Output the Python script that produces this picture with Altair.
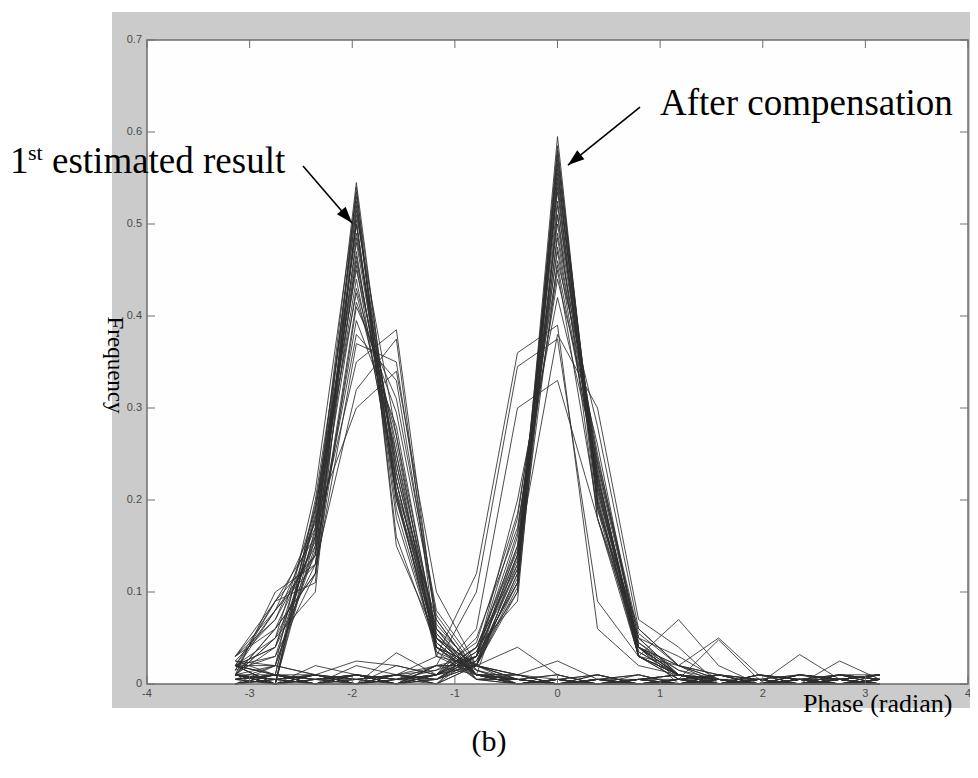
import altair as alt
import pandas as pd

# phase bins (radian) shared by every histogram curve
PHASE_BINS = [-3.14, -2.75, -2.36, -1.96, -1.57, -1.18, -0.79, -0.39, 0.0,
              0.39, 0.79, 1.18, 1.57, 1.96, 2.36, 2.75, 3.14]

# ---- 1st estimated result (peak near -1.96 rad) ----
est_01 = [0.020, 0.000, 0.170, 0.545, 0.210, 0.030, 0.010, 0.005, 0.010, 0.000, 0.005, 0.010, 0.000, 0.005, 0.000, 0.005, 0.010]
est_02 = [0.010, 0.020, 0.150, 0.535, 0.220, 0.040, 0.010, 0.010, 0.000, 0.005, 0.010, 0.000, 0.005, 0.000, 0.010, 0.000, 0.005]
est_03 = [0.030, 0.060, 0.120, 0.520, 0.200, 0.050, 0.010, 0.000, 0.005, 0.010, 0.000, 0.005, 0.000, 0.010, 0.005, 0.000, 0.005]
est_04 = [0.020, 0.080, 0.140, 0.505, 0.190, 0.040, 0.020, 0.005, 0.000, 0.005, 0.000, 0.000, 0.010, 0.000, 0.005, 0.010, 0.010]
est_05 = [0.010, 0.000, 0.200, 0.490, 0.240, 0.050, 0.010, 0.000, 0.005, 0.000, 0.005, 0.010, 0.000, 0.005, 0.000, 0.005, 0.000]
est_06 = [0.020, 0.040, 0.160, 0.480, 0.230, 0.060, 0.005, 0.010, 0.000, 0.005, 0.000, 0.005, 0.010, 0.000, 0.005, 0.000, 0.005]
est_07 = [0.010, 0.100, 0.130, 0.465, 0.220, 0.050, 0.010, 0.000, 0.005, 0.000, 0.010, 0.000, 0.005, 0.005, 0.000, 0.005, 0.000]
est_08 = [0.020, 0.000, 0.190, 0.450, 0.260, 0.050, 0.020, 0.040, 0.010, 0.000, 0.005, 0.000, 0.005, 0.000, 0.010, 0.005, 0.010]
est_09 = [0.030, 0.070, 0.170, 0.440, 0.220, 0.040, 0.020, 0.010, 0.025, 0.005, 0.000, 0.005, 0.000, 0.005, 0.000, 0.005, 0.000]
est_10 = [0.010, 0.050, 0.190, 0.425, 0.250, 0.060, 0.010, 0.005, 0.000, 0.005, 0.000, 0.000, 0.010, 0.000, 0.005, 0.000, 0.005]
est_11 = [0.020, 0.030, 0.120, 0.410, 0.310, 0.080, 0.020, 0.010, 0.005, 0.000, 0.005, 0.005, 0.000, 0.010, 0.000, 0.005, 0.010]
est_12 = [0.020, 0.090, 0.140, 0.395, 0.280, 0.050, 0.020, 0.005, 0.010, 0.000, 0.005, 0.000, 0.005, 0.000, 0.005, 0.000, 0.005]
est_13 = [0.010, 0.060, 0.120, 0.370, 0.350, 0.070, 0.010, 0.000, 0.005, 0.010, 0.000, 0.005, 0.000, 0.005, 0.000, 0.010, 0.000]
est_14 = [0.020, 0.000, 0.160, 0.350, 0.385, 0.060, 0.020, 0.005, 0.000, 0.005, 0.000, 0.000, 0.005, 0.000, 0.032, 0.005, 0.010]
est_15 = [0.030, 0.080, 0.130, 0.320, 0.375, 0.040, 0.010, 0.000, 0.005, 0.000, 0.005, 0.010, 0.000, 0.005, 0.000, 0.010, 0.005]
est_16 = [0.010, 0.040, 0.180, 0.300, 0.340, 0.100, 0.020, 0.010, 0.000, 0.005, 0.000, 0.005, 0.048, 0.005, 0.000, 0.005, 0.000]
est_17 = [0.020, 0.020, 0.210, 0.530, 0.160, 0.040, 0.010, 0.005, 0.000, 0.005, 0.010, 0.000, 0.010, 0.000, 0.005, 0.000, 0.005]
est_18 = [0.010, 0.050, 0.100, 0.510, 0.270, 0.030, 0.020, 0.000, 0.005, 0.000, 0.005, 0.000, 0.000, 0.005, 0.010, 0.005, 0.010]
est_19 = [0.020, 0.010, 0.180, 0.470, 0.210, 0.070, 0.010, 0.010, 0.000, 0.010, 0.000, 0.005, 0.000, 0.005, 0.000, 0.025, 0.005]
est_20 = [0.030, 0.090, 0.110, 0.540, 0.150, 0.050, 0.010, 0.005, 0.000, 0.000, 0.005, 0.010, 0.005, 0.000, 0.005, 0.000, 0.000]
est_21 = [0.015, 0.030, 0.165, 0.525, 0.200, 0.045, 0.010, 0.005, 0.000, 0.010, 0.000, 0.005, 0.000, 0.000, 0.005, 0.000, 0.005]
est_22 = [0.025, 0.070, 0.150, 0.500, 0.205, 0.035, 0.005, 0.000, 0.005, 0.000, 0.005, 0.000, 0.000, 0.005, 0.000, 0.005, 0.000]
est_23 = [0.010, 0.000, 0.185, 0.515, 0.230, 0.045, 0.005, 0.005, 0.000, 0.005, 0.000, 0.000, 0.005, 0.000, 0.005, 0.000, 0.005]
est_24 = [0.020, 0.050, 0.140, 0.485, 0.250, 0.035, 0.015, 0.000, 0.005, 0.000, 0.000, 0.005, 0.000, 0.005, 0.000, 0.000, 0.005]
est_25 = [0.015, 0.080, 0.175, 0.455, 0.205, 0.055, 0.005, 0.000, 0.000, 0.005, 0.005, 0.000, 0.000, 0.000, 0.005, 0.005, 0.000]
est_26 = [0.025, 0.010, 0.195, 0.460, 0.240, 0.045, 0.010, 0.005, 0.000, 0.000, 0.005, 0.000, 0.005, 0.000, 0.000, 0.000, 0.005]
est_27 = [0.010, 0.060, 0.155, 0.430, 0.270, 0.055, 0.010, 0.000, 0.005, 0.000, 0.000, 0.000, 0.005, 0.000, 0.005, 0.000, 0.000]
est_28 = [0.020, 0.040, 0.130, 0.415, 0.295, 0.075, 0.015, 0.005, 0.000, 0.005, 0.000, 0.000, 0.000, 0.000, 0.000, 0.005, 0.000]
est_29 = [0.015, 0.090, 0.160, 0.500, 0.180, 0.040, 0.005, 0.005, 0.000, 0.000, 0.000, 0.005, 0.000, 0.000, 0.000, 0.000, 0.000]
est_30 = [0.025, 0.020, 0.145, 0.380, 0.330, 0.065, 0.015, 0.000, 0.005, 0.000, 0.005, 0.000, 0.000, 0.005, 0.000, 0.005, 0.000]

# ---- after compensation (peak near 0 rad) ----
comp_01 = [0.010, 0.000, 0.010, 0.005, 0.010, 0.000, 0.020, 0.120, 0.595, 0.190, 0.030, 0.010, 0.000, 0.005, 0.000, 0.010, 0.005]
comp_02 = [0.005, 0.010, 0.000, 0.010, 0.005, 0.010, 0.030, 0.100, 0.580, 0.210, 0.040, 0.010, 0.005, 0.000, 0.005, 0.000, 0.010]
comp_03 = [0.020, 0.010, 0.005, 0.010, 0.000, 0.020, 0.010, 0.140, 0.565, 0.180, 0.050, 0.010, 0.000, 0.005, 0.010, 0.005, 0.000]
comp_04 = [0.000, 0.020, 0.010, 0.000, 0.020, 0.010, 0.040, 0.090, 0.550, 0.220, 0.030, 0.010, 0.005, 0.000, 0.005, 0.010, 0.005]
comp_05 = [0.010, 0.000, 0.020, 0.010, 0.000, 0.010, 0.020, 0.150, 0.535, 0.200, 0.040, 0.000, 0.010, 0.005, 0.000, 0.005, 0.010]
comp_06 = [0.005, 0.010, 0.000, 0.020, 0.010, 0.005, 0.030, 0.110, 0.520, 0.240, 0.050, 0.010, 0.000, 0.010, 0.005, 0.000, 0.005]
comp_07 = [0.010, 0.005, 0.010, 0.000, 0.010, 0.020, 0.020, 0.160, 0.500, 0.230, 0.030, 0.020, 0.005, 0.000, 0.010, 0.005, 0.000]
comp_08 = [0.020, 0.010, 0.000, 0.010, 0.005, 0.010, 0.040, 0.130, 0.490, 0.250, 0.040, 0.010, 0.000, 0.005, 0.000, 0.010, 0.005]
comp_09 = [0.000, 0.005, 0.010, 0.025, 0.020, 0.010, 0.030, 0.180, 0.470, 0.220, 0.040, 0.020, 0.005, 0.000, 0.005, 0.000, 0.010]
comp_10 = [0.010, 0.010, 0.000, 0.010, 0.000, 0.005, 0.020, 0.120, 0.460, 0.280, 0.060, 0.020, 0.010, 0.005, 0.000, 0.005, 0.000]
comp_11 = [0.005, 0.020, 0.010, 0.000, 0.034, 0.010, 0.050, 0.170, 0.440, 0.260, 0.040, 0.010, 0.000, 0.010, 0.005, 0.000, 0.005]
comp_12 = [0.010, 0.000, 0.005, 0.010, 0.000, 0.020, 0.030, 0.200, 0.420, 0.240, 0.050, 0.030, 0.005, 0.000, 0.010, 0.005, 0.010]
comp_13 = [0.000, 0.010, 0.000, 0.005, 0.010, 0.030, 0.120, 0.360, 0.390, 0.060, 0.020, 0.010, 0.000, 0.005, 0.000, 0.010, 0.000]
comp_14 = [0.010, 0.000, 0.010, 0.000, 0.005, 0.020, 0.100, 0.345, 0.375, 0.090, 0.030, 0.005, 0.010, 0.000, 0.005, 0.000, 0.005]
comp_15 = [0.005, 0.010, 0.000, 0.010, 0.000, 0.010, 0.060, 0.300, 0.330, 0.180, 0.040, 0.020, 0.010, 0.005, 0.000, 0.005, 0.010]
comp_16 = [0.010, 0.000, 0.010, 0.000, 0.010, 0.005, 0.030, 0.140, 0.380, 0.300, 0.070, 0.040, 0.000, 0.005, 0.000, 0.010, 0.000]
comp_17 = [0.000, 0.010, 0.005, 0.010, 0.000, 0.010, 0.020, 0.100, 0.510, 0.180, 0.030, 0.070, 0.020, 0.000, 0.005, 0.010, 0.005]
comp_18 = [0.010, 0.005, 0.000, 0.000, 0.010, 0.000, 0.040, 0.150, 0.450, 0.190, 0.060, 0.020, 0.050, 0.010, 0.000, 0.005, 0.010]
comp_19 = [0.005, 0.010, 0.010, 0.000, 0.005, 0.010, 0.030, 0.110, 0.575, 0.200, 0.030, 0.010, 0.000, 0.010, 0.005, 0.000, 0.005]
comp_20 = [0.010, 0.000, 0.005, 0.010, 0.000, 0.020, 0.020, 0.130, 0.540, 0.210, 0.040, 0.010, 0.005, 0.000, 0.010, 0.005, 0.000]
comp_21 = [0.005, 0.000, 0.010, 0.005, 0.000, 0.010, 0.025, 0.115, 0.585, 0.195, 0.035, 0.010, 0.000, 0.005, 0.000, 0.005, 0.000]
comp_22 = [0.000, 0.010, 0.005, 0.000, 0.010, 0.005, 0.035, 0.125, 0.560, 0.205, 0.030, 0.005, 0.005, 0.000, 0.005, 0.000, 0.005]
comp_23 = [0.010, 0.005, 0.000, 0.010, 0.005, 0.000, 0.020, 0.105, 0.570, 0.215, 0.045, 0.010, 0.000, 0.000, 0.005, 0.000, 0.000]
comp_24 = [0.005, 0.010, 0.005, 0.000, 0.005, 0.015, 0.030, 0.135, 0.545, 0.195, 0.040, 0.005, 0.010, 0.000, 0.000, 0.005, 0.000]
comp_25 = [0.000, 0.005, 0.010, 0.005, 0.000, 0.010, 0.040, 0.145, 0.525, 0.215, 0.035, 0.010, 0.000, 0.005, 0.000, 0.000, 0.005]
comp_26 = [0.010, 0.000, 0.005, 0.010, 0.005, 0.005, 0.025, 0.125, 0.510, 0.235, 0.045, 0.015, 0.000, 0.000, 0.005, 0.005, 0.000]
comp_27 = [0.005, 0.010, 0.000, 0.005, 0.010, 0.000, 0.030, 0.165, 0.485, 0.225, 0.040, 0.015, 0.005, 0.000, 0.000, 0.005, 0.000]
comp_28 = [0.000, 0.005, 0.010, 0.000, 0.005, 0.010, 0.035, 0.140, 0.475, 0.245, 0.055, 0.020, 0.000, 0.005, 0.000, 0.000, 0.005]
comp_29 = [0.010, 0.005, 0.000, 0.010, 0.000, 0.005, 0.020, 0.110, 0.555, 0.225, 0.040, 0.010, 0.005, 0.000, 0.005, 0.000, 0.000]
comp_30 = [0.005, 0.000, 0.005, 0.005, 0.010, 0.015, 0.045, 0.185, 0.455, 0.230, 0.030, 0.010, 0.000, 0.005, 0.000, 0.005, 0.000]

X_TICKS = [-4, -3, -2, -1, 0, 1, 2, 3, 4]
X_TICK_LABELS = ["-4", "-3", "-2", "-1", "0", "1", "2", "3", "4"]
Y_TICKS = [0, 0.1, 0.2, 0.3, 0.4, 0.5, 0.6, 0.7]
Y_TICK_LABELS = ["0", "0.1", "0.2", "0.3", "0.4", "0.5", "0.6", "0.7"]

first_estimated = [est_01, est_02, est_03, est_04, est_05, est_06, est_07, est_08, est_09, est_10,
                   est_11, est_12, est_13, est_14, est_15, est_16, est_17, est_18, est_19, est_20,
                   est_21, est_22, est_23, est_24, est_25, est_26, est_27, est_28, est_29, est_30]
after_compensation = [comp_01, comp_02, comp_03, comp_04, comp_05, comp_06, comp_07, comp_08, comp_09, comp_10,
                      comp_11, comp_12, comp_13, comp_14, comp_15, comp_16, comp_17, comp_18, comp_19, comp_20,
                      comp_21, comp_22, comp_23, comp_24, comp_25, comp_26, comp_27, comp_28, comp_29, comp_30]

rows = []
for name, group in (("est", first_estimated), ("comp", after_compensation)):
    for i, series in enumerate(group):
        for x, y in zip(PHASE_BINS, series):
            rows.append({"series": f"{name}{i:02d}", "phase": x, "freq": y})
df = pd.DataFrame(rows)

# arrows (data coordinates): start -> tip, and head angle
arrows = pd.DataFrame({
    "x": [-2.48, 0.804], "y": [0.563, 0.627],
    "x2": [-2.002, 0.102], "y2": [0.501, 0.564],
    "ang": [139.3, 231.1],
})

W, H = 821, 644
SERIF = "Liberation Serif"
SANS = "Liberation Sans"

xscale = alt.Scale(domain=[-4, 4], nice=False, zero=False)
yscale = alt.Scale(domain=[0, 0.7], nice=False, zero=False)
one = pd.DataFrame({"a": [0]})

frame = alt.Chart(one).mark_rect(fill="#cbcbcb").encode(
    x=alt.value(-35), x2=alt.value(823), y=alt.value(-28), y2=alt.value(668))

plotbg = alt.Chart(one).mark_rect(fill="#fefefe").encode(
    x=alt.value(0), x2=alt.value(W), y=alt.value(0), y2=alt.value(H))

border = alt.Chart(one).mark_rect(fill=None, stroke="#6e6e6e", strokeWidth=1.5).encode(
    x=alt.value(0), x2=alt.value(W), y=alt.value(0), y2=alt.value(H))

lines = alt.Chart(df).mark_line(stroke="#2e2e2e", strokeWidth=1.0, opacity=0.85).encode(
    x=alt.X("phase:Q", scale=xscale, axis=None),
    y=alt.Y("freq:Q", scale=yscale, axis=None),
    detail="series:N",
)

xt = pd.DataFrame({"t": X_TICKS, "lab": X_TICK_LABELS})
yt = pd.DataFrame({"t": Y_TICKS, "lab": Y_TICK_LABELS})
tick_kw = dict(color="#6e6e6e", strokeWidth=1)
tick_bottom = alt.Chart(xt).mark_rule(**tick_kw).encode(
    x=alt.X("t:Q", scale=xscale, axis=None), y=alt.value(H), y2=alt.value(H - 8))
tick_top = alt.Chart(xt).mark_rule(**tick_kw).encode(
    x=alt.X("t:Q", scale=xscale, axis=None), y=alt.value(0), y2=alt.value(8))
tick_left = alt.Chart(yt).mark_rule(**tick_kw).encode(
    y=alt.Y("t:Q", scale=yscale, axis=None), x=alt.value(0), x2=alt.value(8))
tick_right = alt.Chart(yt).mark_rule(**tick_kw).encode(
    y=alt.Y("t:Q", scale=yscale, axis=None), x=alt.value(W), x2=alt.value(W - 8))

xlabels = alt.Chart(xt).mark_text(font=SANS, fontSize=11, color="#4a4a4a",
                                  align="center", baseline="top").encode(
    x=alt.X("t:Q", scale=xscale, axis=None), y=alt.value(H + 4), text="lab:N")
ylabels = alt.Chart(yt).mark_text(font=SANS, fontSize=11, color="#4a4a4a",
                                  align="right", baseline="middle").encode(
    y=alt.Y("t:Q", scale=yscale, axis=None), x=alt.value(-5), text="lab:N")

shaft = alt.Chart(arrows).mark_rule(color="black", strokeWidth=1.6).encode(
    x=alt.X("x:Q", scale=xscale, axis=None), y=alt.Y("y:Q", scale=yscale, axis=None),
    x2="x2:Q", y2="y2:Q")
head = alt.Chart(arrows).mark_point(
    shape="M0,0L-0.38,1.1L0.38,1.1Z", filled=True, color="black", opacity=1, size=900
).encode(
    x=alt.X("x2:Q", scale=xscale, axis=None), y=alt.Y("y2:Q", scale=yscale, axis=None),
    angle=alt.Angle("ang:Q", scale=None))


def label(text, px, py, size, align="left", baseline="alphabetic", angle=0, font=SERIF):
    kw = dict(text=text, font=font, fontSize=size, align=align, baseline=baseline, color="black")
    if angle:
        kw["angle"] = angle
    return alt.Chart(one).mark_text(**kw).encode(x=alt.value(px), y=alt.value(py))


texts = [
    label("1", -137, 133, 37),
    label("st", -119, 120, 22),
    label("estimated result", -95, 133, 37),
    label("After compensation", 513, 75, 37),
    label("Phase (radian)", 656, 672, 26),
    label("Frequency", -32, 325, 23, align="center", baseline="middle", angle=90),
    label("(b)", 342, 702, 30, align="center", baseline="middle"),
]

chart = alt.layer(
    frame, plotbg, lines, border, tick_bottom, tick_top, tick_left, tick_right,
    xlabels, ylabels, shaft, head, *texts
).properties(
    width=W, height=H,
    padding={"left": 139, "top": 32, "right": 2, "bottom": 80},
    autosize=alt.AutoSizeParams(type="none"),
).configure_view(stroke=None)

chart.save("out.html", embed_options={"renderer": "svg", "actions": False})
